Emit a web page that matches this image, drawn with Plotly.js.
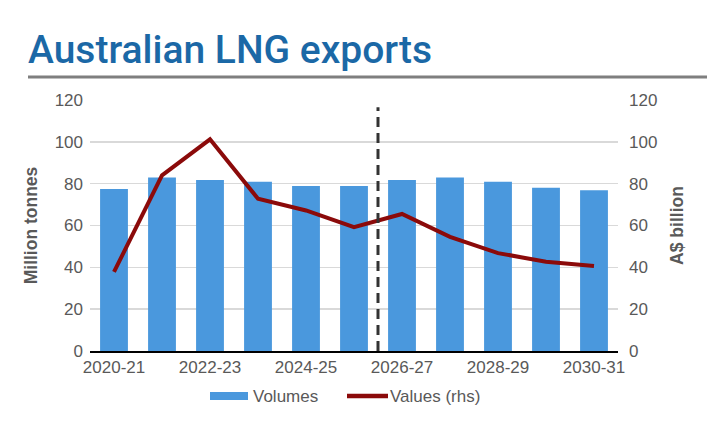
<!DOCTYPE html>
<html>
<head>
<meta charset="utf-8">
<script src="https://cdn.plot.ly/plotly-3.0.1.min.js"></script>
<style>html,body{margin:0;padding:0;background:#fff;}#chart{width:718px;height:421px;}</style>
</head>
<body>
<div id="chart"></div>
<script>
const categories = ["2020-21","2021-22","2022-23","2023-24","2024-25","2025-26","2026-27","2027-28","2028-29","2029-30","2030-31"];
const volumes = [77.4, 83.0, 81.7, 80.9, 78.9, 78.9, 81.7, 83.0, 80.9, 78.1, 76.8];
const valuesRhs = [37.8, 84.0, 101.2, 72.8, 67.2, 59.2, 65.5, 54.6, 46.8, 42.7, 40.6];
const seriesNames = ["Volumes", "Values (rhs)"];
const tickLabelIdx = [0, 2, 4, 6, 8, 10];
const tickLabels = tickLabelIdx.map(i => categories[i]);
const boundaryTicks = [-0.5, 1.5, 3.5, 5.5, 7.5, 9.5];

const grey = "#595959";
const barColor = "#4A98DD";
const lineColor = "#8B0A0A";
const tickFont = {family: "Liberation Sans, Arial, sans-serif", size: 17, color: grey};
const axisTitleFont = {family: "Liberation Sans, Arial, sans-serif", size: 17.5, weight: "bold", color: grey};

// paper-coordinate helpers (plot area: x 90..618, y 100..351)
const px = x => (x - 90) / 528;
const py = y => (351 - y) / 251;

const traces = [
  {type: "bar", name: seriesNames[0], x: categories, y: volumes, marker: {color: barColor}, width: 0.58, xaxis: "x", yaxis: "y", showlegend: false},
  {type: "scatter", mode: "lines", name: seriesNames[1], x: categories, y: valuesRhs, line: {color: lineColor, width: 4}, xaxis: "x", yaxis: "y2", showlegend: false}
];

const layout = {
  width: 718, height: 421,
  margin: {l: 90, r: 100, t: 100, b: 70, autoexpand: false},
  paper_bgcolor: "#fff", plot_bgcolor: "#fff",
  showlegend: false,
  title: {text: "Australian LNG exports", x: 28/718, xanchor: "left", xref: "container", y: 1 - 49/421, yanchor: "middle", yref: "container",
    font: {family: "Roboto, sans-serif", size: 39, weight: 500, color: "#1B68A6"}},
  xaxis: {type: "category", range: [-0.5, 10.5], tickmode: "array", tickvals: tickLabels, ticktext: tickLabels, ticks: "", showgrid: false,
    showline: true, linecolor: "#000", linewidth: 1.5, tickfont: tickFont, automargin: false},
  xaxis2: {overlaying: "x", type: "linear", range: [-0.5, 10.5], tickmode: "array", tickvals: boundaryTicks, showticklabels: false,
    ticks: "outside", ticklen: 5, tickcolor: "#000", tickwidth: 1.5, showgrid: false, showline: false, zeroline: false, anchor: "y"},
  yaxis: {range: [0, 120], dtick: 20, showgrid: true, gridcolor: "#D9D9D9", gridwidth: 1.5, zeroline: false, showline: false, ticks: "",
    tickfont: tickFont, ticklabelstandoff: 6, automargin: false,
    title: {text: "Million tonnes", font: axisTitleFont, standoff: 12}},
  yaxis2: {overlaying: "y", side: "right", range: [0, 120], dtick: 20, showgrid: false, zeroline: false, showline: false, ticks: "",
    tickfont: tickFont, ticklabelstandoff: 10, automargin: false,
    title: {text: "A$ billion", font: axisTitleFont, standoff: 14}},
  shapes: [
    {type: "line", xref: "paper", yref: "paper", x0: px(28), x1: px(707), y0: py(77), y1: py(77), line: {color: "#7F7F7F", width: 3}},
    {type: "line", xref: "x", yref: "y", x0: 5.5, x1: 5.5, y0: 0, y1: 116.5, line: {color: "#333333", width: 3, dash: "10px,6px"}},
    // legend swatches
    {type: "rect", xref: "paper", yref: "paper", x0: px(210), x1: px(248), y0: py(392), y1: py(400), fillcolor: barColor, line: {width: 0}},
    {type: "line", xref: "paper", yref: "paper", x0: px(347), x1: px(388), y0: py(396), y1: py(396), line: {color: lineColor, width: 4.5}}
  ],
  annotations: [
    {xref: "paper", yref: "paper", x: px(251), y: py(396), xanchor: "left", yanchor: "middle", showarrow: false, text: seriesNames[0], font: tickFont},
    {xref: "paper", yref: "paper", x: px(388), y: py(396), xanchor: "left", yanchor: "middle", showarrow: false, text: seriesNames[1], font: tickFont}
  ]
};

Plotly.newPlot("chart", traces, layout, {displayModeBar: false, staticPlot: true});
</script>
</body>
</html>
